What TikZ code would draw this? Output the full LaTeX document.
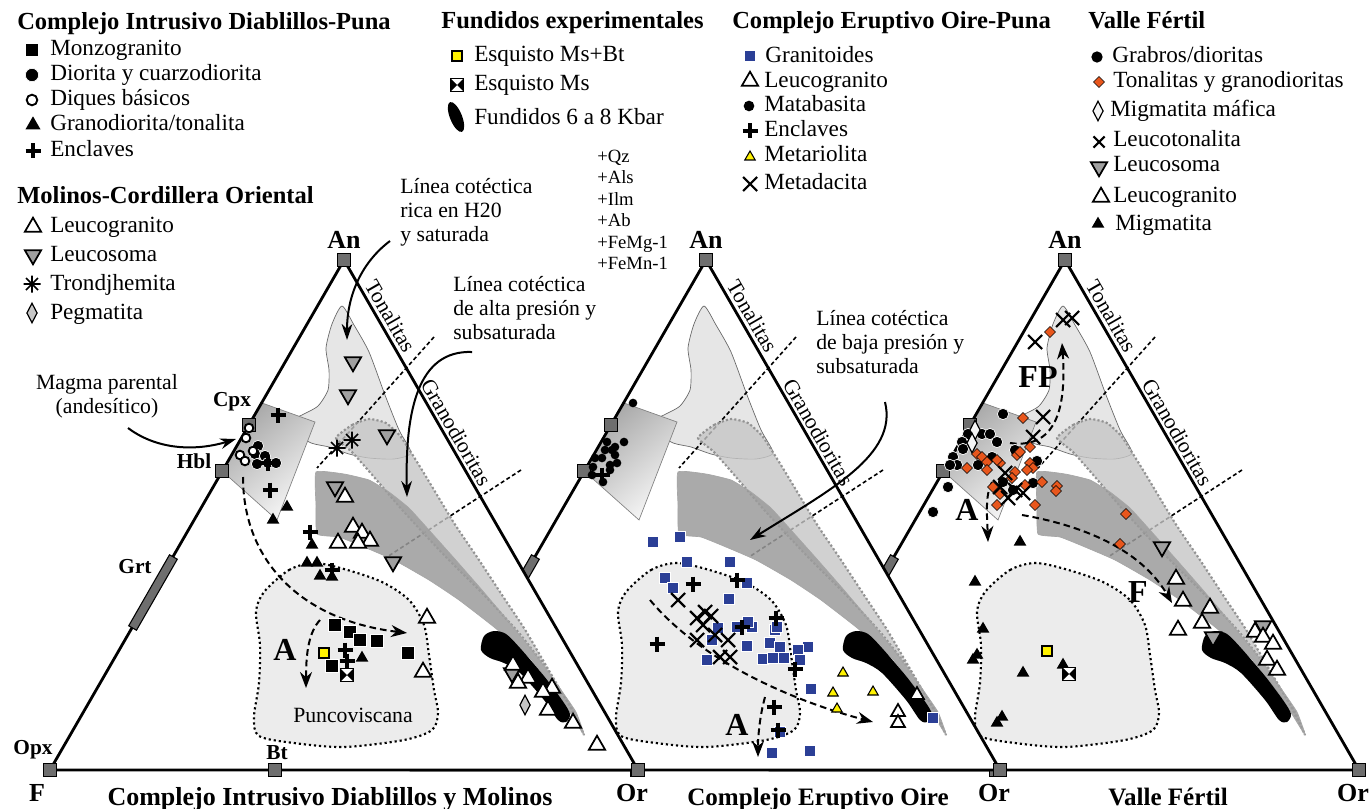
\documentclass[tikz,border=0pt]{standalone}
\usepackage{fontspec}
\setmainfont{Liberation Serif}
\usetikzlibrary{positioning,shapes.geometric,arrows.meta}

\definecolor{vertgray}{HTML}{6E6E6E}
\definecolor{oireblue}{HTML}{2B3F96}
\definecolor{vforange}{HTML}{E8561C}
\definecolor{tonefill}{HTML}{E6E6E6}
\definecolor{bandmid}{HTML}{C6C6C6}
\definecolor{banddark}{HTML}{9C9C9C}
\definecolor{puncofill}{HTML}{ECECEC}
\definecolor{leucogray}{HTML}{A0A0A0}
\definecolor{ylw}{HTML}{FFF200}

\newcommand{\legfont}{\fontsize{17.4}{20}\selectfont}
\newcommand{\headfont}{\fontsize{18.4}{22}\selectfont\bfseries}
\newcommand{\notefont}{\fontsize{16.3}{18}\selectfont}
\newcommand{\assayfont}{\fontsize{14}{16}\selectfont}
\newcommand{\vertfont}{\fontsize{16}{18}\selectfont\bfseries}
\newcommand{\apexfont}{\fontsize{19.5}{22}\selectfont\bfseries}
\newcommand{\titfont}{\fontsize{18.8}{22}\selectfont\bfseries}
\newcommand{\pathfont}{\fontsize{24}{26}\selectfont\bfseries}

\tikzset{
  plusmk/.pic={\draw[line width=2.5pt] (-7.5,0) -- (7.5,0) (0,-7.5) -- (0,7.5);},
  crossmk/.pic={\draw[line width=1.6pt] (-7,-7) -- (7,7) (-7,7) -- (7,-7);},
  astmk/.pic={\draw[line width=1.2pt] (-8.5,0) -- (8.5,0) (0,-8.5) -- (0,8.5) (-6,-6) -- (6,6) (-6,6) -- (6,-6);},
  msmk/.pic={\filldraw[line width=1.2pt,fill=white] (-6.5,-6.5) rectangle (6.5,6.5);
    \fill (-6.5,-6.5) -- (-6.5,6.5) -- (0,0) -- cycle (6.5,-6.5) -- (6.5,6.5) -- (0,0) -- cycle;},
}

% one An-Or-F ternary, An at local x=0 (pixels, y down)
\newcommand{\terntemplate}[1]{%
  \fill[white] (0,260) -- (294,770) -- (-294,770) -- cycle;
  % campo de tonalitas
  \filldraw[tonfield] plot[smooth cycle,tension=0.4] coordinates {(-2,306) (10,325) (25,352) (41,395) (55,430) (67,453) (50,459) (25,458) (5,454) (-15,447) (-35,442) (-57,423) (-42,415) (-26,406) (-16,390) (-15,370) (-18,348) (-12,324)};
  % Cpx-Hbl
  \shadedraw[mafbox] (-82,403) -- (-29,422) -- (-67,520) -- (-122,471) -- cycle;
  % divisorias
  \draw[divider] (90,337) -- (-27,468);
  \draw[divider] (177,470) -- (43,557);
  % bandas cotecticas
  \filldraw[midband] plot[smooth cycle,tension=0.3] coordinates {(-8,438) (8,425) (25,419) (42,423) (57,437) (78,470) (110,523) (135,560) (160,598) (180,628) (200,662) (218,693) (230,712) (240,735) (225,705) (205,672) (175,633) (140,595) (100,555) (60,512) (30,477) (8,452)};
  \filldraw[darkband] plot[smooth cycle,tension=0.25] coordinates {(-28,472) (0,474) (25,480) (45,492) (65,508) (85,530) (110,558) (138,590) (165,622) (192,655) (215,687) (232,712) (240,735) (215,695) (185,657) (150,627) (115,600) (85,580) (50,560) (20,547) (-5,537) (-27,534) (-28,505)};
  % Puncoviscana
  \filldraw[puncozone] plot[smooth cycle,tension=0.5] coordinates {(-80,592) (-55,570) (-30,563) (0,569) (38,582) (65,600) (80,625) (85,655) (90,690) (94,713) (88,730) (60,740) (0,747) (-50,743) (-85,736) (-90,717) (-85,683) (-84,645) (-88,612)};
  % fundidos 6-8 kbar
  \fill plot[smooth cycle,tension=0.5] coordinates {(140,636) (150,631) (162,634) (176,648) (200,676) (218,700) (226,714) (222,722) (214,720) (200,700) (176,673) (160,663) (146,658) (137,650)};
  % marco
  \draw[ternframe] (0,260) -- (294,770) -- (-294,770) -- cycle;
  \filldraw[vertbar] (-166.7,559.2) -- (-174.5,554.8) -- (-215.3,625.8) -- (-207.5,630.2) -- cycle;
  \node[vertsq] (#1An) at (0,260) {};
  \node[vertsq] (#1Or) at (294,770) {};
  \node[vertsq] (#1Bt) at (-69,770) {};
  \node[vertsq] (#1Cpx) at (-95,425) {};
  \node[vertsq] (#1Hbl) at (-122,471) {};
  \node[apex,above=2pt of #1An] (#1AnLab) {An};
  \node[apex] (#1OrLab) at (288,793) {Or};
  \node[fieldlab,rotate=-60] (#1Ton) at (36,322) {Tonalitas};
  \node[fieldlab,rotate=-60] (#1Gran) at (102,438) {Granodioritas};
}

\begin{document}
\begin{tikzpicture}[x=0.75pt,y=-0.75pt]
  \tikzstyle{ternframe}=[line width=2.1pt]
  \tikzstyle{vertsq}=[rectangle,draw=black,fill=vertgray,line width=0.8pt,minimum size=9.5pt,inner sep=0pt]
  \tikzstyle{vertbar}=[draw=black,fill=vertgray,line width=0.8pt]
  \tikzstyle{tonfield}=[fill=tonefill,draw=gray!80!black,line width=0.5pt]
  \tikzstyle{mafbox}=[top color=gray!70,middle color=gray!35,bottom color=gray!6,shading angle=40,draw=gray,line width=0.5pt]
  \tikzstyle{divider}=[line width=1.2pt,dash pattern=on 3pt off 2pt]
  \tikzstyle{midband}=[fill=bandmid,fill opacity=0.8,draw=gray!85,line width=1.6pt,dash pattern=on 1.6pt off 1.6pt]
  \tikzstyle{darkband}=[fill=banddark,fill opacity=0.85,draw=gray!70,line width=0.5pt]
  \tikzstyle{puncozone}=[fill=puncofill,draw=black,line width=1.6pt,dash pattern=on 1.6pt off 2.2pt]
  \tikzstyle{apex}=[font=\apexfont,inner sep=1pt]
  \tikzstyle{fieldlab}=[font=\notefont,anchor=south,inner sep=3pt]
  \tikzstyle{vlab}=[font=\vertfont,inner sep=0pt]
  \tikzstyle{cotnote}=[font=\notefont,align=left,inner sep=0pt,anchor=north west]
  \tikzstyle{notearrow}=[line width=1.5pt,-{Stealth[length=12pt,width=8pt]}]
  \tikzstyle{trend}=[line width=1.5pt,dash pattern=on 5pt off 3pt,-{Stealth[length=12pt,width=9pt]}]
  \tikzstyle{trendlab}=[font=\pathfont,inner sep=0pt]
  \tikzstyle{legtext}=[font=\legfont,anchor=base west,inner sep=0pt]
  \tikzstyle{leghead}=[font=\headfont,anchor=base west,inner sep=0pt]
  \tikzstyle{assay}=[font=\assayfont,anchor=base west,inner sep=0pt]
  \tikzstyle{titlelab}=[font=\titfont,anchor=base,inner sep=0pt]
  \tikzstyle{msq}=[rectangle,fill=black,draw=white,line width=0.9pt,minimum size=9.5pt,inner sep=0pt]
  \tikzstyle{bsq}=[rectangle,fill=oireblue,draw=white,line width=0.6pt,minimum size=8.5pt,inner sep=0pt]
  \tikzstyle{ysq}=[rectangle,fill=ylw,draw=black,line width=1.5pt,minimum size=8pt,inner sep=0pt]
  \tikzstyle{bdot}=[circle,fill=black,draw=white,line width=0.5pt,minimum size=8.5pt,inner sep=0pt]
  \tikzstyle{sdot}=[circle,fill=black,minimum size=6.5pt,inner sep=0pt]
  \tikzstyle{odot}=[circle,draw=black,fill=white,line width=1.4pt,minimum size=6.5pt,inner sep=0pt]
  \tikzstyle{btri}=[regular polygon,regular polygon sides=3,fill=black,minimum size=11pt,inner sep=0pt]
  \tikzstyle{wtri}=[regular polygon,regular polygon sides=3,fill=white,draw=black,line width=1.3pt,minimum size=14pt,inner sep=0pt]
  \tikzstyle{gtri}=[wtri,fill=leucogray,shape border rotate=180]
  \tikzstyle{ytri}=[regular polygon,regular polygon sides=3,fill=ylw,draw=black,line width=0.8pt,minimum size=9pt,inner sep=0pt]
  \tikzstyle{odia}=[diamond,fill=vforange,draw=black,line width=0.4pt,minimum size=8.3pt,inner sep=0pt]
  \tikzstyle{gdia}=[diamond,fill=gray!45,draw=black,line width=0.9pt,minimum width=8pt,minimum height=15pt,inner sep=0pt]
  \tikzstyle{wdia}=[gdia,fill=gray!8]

  \useasboundingbox (0,0) rectangle (1369,809);

  % ternarios, de derecha a izquierda
  \foreach \ax/\tn in {1065/c,706/b,344/a}{
    \begin{scope}[shift={(\ax,0)}]
      \terntemplate{\tn}
    \end{scope}
  }
  \node[vertsq] (aF) at (50,770) {};
  \node[vlab] (aCpxLab) at (232,402) {Cpx};
  \node[vlab] (aHblLab) at (194,461) {Hbl};
  \node[vlab] (aGrtLab) at (135,567) {Grt};
  \node[vlab] (aOpxLab) at (33,750) {Opx};
  \node[vlab] (aBtLab) at (277,753) {Bt};
  \node[apex] (aFLab) at (37,793) {F};

  % titulos inferiores
  \node[titlelab,font=\apexfont] (titA) at (330,805) {Complejo Intrusivo Diablillos y Molinos};
  \node[titlelab] (titB) at (818,805) {Complejo Eruptivo Oire};
  \node[titlelab] (titC) at (1168,805) {Valle Fértil};

  % ---------- Diablillos y Molinos
  \coordinate (aA1s) at (243,477); \coordinate (aA1e) at (407,633);
  \draw[trend] (aA1s) .. controls (243,560) and (300,620) .. (aA1e);
  \coordinate (aA2s) at (320,620); \coordinate (aA2e) at (306,688);
  \draw[trend] (aA2s) .. controls (309,632) and (306,652) .. (aA2e);
  \node[trendlab] (aALab) at (285,650) {A};
  \node[font=\notefont] (aPunco) at (353,715) {Puncoviscana};
  \foreach \p [count=\k] in {(258,446),(255,454),(265,456),(257,464),(268,463),(276,463)}
    \node[bdot] (aD\k) at \p {};
  \foreach \p [count=\k] in {(249,428),(246,438),(240,455),(245,461),(253,451)}
    \node[odot] (aQ\k) at \p {};
  \foreach \p [count=\k] in {(287,507),(273,520),(312,545),(307,563),(317,563),(320,576),(332,577),(362,658)}
    \node[btri] (aG\k) at \p {};
  \foreach \p [count=\k] in {(353,362),(348,395),(387,435),(335,487),(393,562),(512,673)}
    \node[gtri] (aL\k) at \p {};
  \foreach \p [count=\k] in {(345,497),(353,527),(362,533),(370,541),(338,543),(358,543),(427,618),(423,672),(513,665),(528,678),(518,683),(552,688),(543,692),(548,710),(573,723),(597,745)}
    \node[wtri] (aW\k) at \p {};
  \node[gdia] (aP1) at (525,705) {};
  \foreach \p in {(352,440),(337,448)} \pic at \p {astmk};
  \foreach \p in {(278,415),(270,490),(310,532),(332,570),(345,650),(347,661),(268,463)} \pic at \p {plusmk};
  \foreach \p [count=\k] in {(335,625),(350,632),(360,640),(377,641),(408,653),(332,666)}
    \node[msq] (aM\k) at \p {};
  \node[ysq] (aY1) at (324,653) {};
  \pic at (347,675) {msmk};

  % ---------- Oire
  \coordinate (bA1s) at (650,600); \coordinate (bA1e) at (873,722);
  \draw[trend] (bA1s) .. controls (700,660) and (790,700) .. (bA1e);
  \coordinate (bA2s) at (765,697); \coordinate (bA2e) at (758,757);
  \draw[trend] (bA2s) .. controls (760,715) and (758,735) .. (bA2e);
  \node[trendlab] (bALab) at (737,725) {A};
  \foreach \p [count=\k] in {(633,403),(607,442),(624,442),(595,458),(602,458),(615,455),(593,467),(610,465),(617,463),(612,450),(605,450),(603,482),(592,475),(610,470),(615,447)}
    \node[sdot] (bD\k) at \p {};
  \pic at (602,475) {plusmk};
  \foreach \p [count=\k] in {(653,542),(680,537),(687,562),(730,562),(665,578),(673,588),(747,583),(729,599),(718,628),(737,627),(752,627),(748,622),(775,630),(777,627),(712,640),(747,646),(770,643),(780,647),(808,647),(763,659),(773,658),(784,658),(798,650),(800,660),(707,660),(811,689),(933,718),(772,753),(810,751),(780,732)}
    \node[bsq] (bS\k) at \p {};
  \foreach \p in {(693,584),(737,580),(776,618),(742,627),(657,644),(795,669),(774,707),(778,730)} \pic at \p {plusmk};
  \foreach \p in {(678,600),(697,618),(705,612),(711,616),(703,625),(697,640),(715,635),(728,640),(720,657),(730,657)} \pic at \p {crossmk};
  \foreach \p [count=\k] in {(843,673),(833,693),(873,692),(837,709)}
    \node[ytri] (bY\k) at \p {};
  \foreach \p [count=\k] in {(917,695),(898,712),(898,723)}
    \node[wtri,minimum size=12pt] (bW\k) at \p {};

  % ---------- Valle Fertil
  \coordinate (cFPs) at (1010,443); \coordinate (cFPe) at (1062,343);
  \draw[trend] (cFPs) .. controls (1060,450) and (1066,400) .. (cFPe);
  \coordinate (cAs) at (992,482); \coordinate (cAe) at (988,542);
  \draw[trend] (cAs) .. controls (985,495) and (987,515) .. (cAe);
  \coordinate (cFs) at (1022,515); \coordinate (cFe) at (1172,603);
  \draw[trend] (cFs) .. controls (1080,525) and (1140,548) .. (cFe);
  \node[trendlab] (cFPLab) at (1038,377) {FP};
  \node[trendlab] (cALab) at (967,510) {A};
  \node[trendlab] (cFLab) at (1138,592) {F};
  \foreach \p [count=\k] in {(1003,414),(968,434),(982,434),(990,434),(997,442),(962,442),(963,449),(953,457),(957,465),(950,465),(978,465),(992,457),(1015,450),(1037,461),(1033,483),(1013,490),(1003,482),(948,487),(933,512)}
    \node[bdot] (cD\k) at \p {};
  \node[wdia] (cM1) at (975,430) {};
  \node[wdia] (cM2) at (972,443) {};
  \foreach \p [count=\k] in {(1050,332),(1023,418),(1030,447),(977,454),(982,457),(987,462),(1000,463),(997,460),(967,468),(987,470),(1017,455),(1020,452),(1030,463),(1033,468),(1027,470),(1015,472),(1012,478),(1025,485),(1042,482),(993,487),(1000,494),(997,505),(1035,505),(1057,486),(1056,491),(1126,514),(1120,544)}
    \node[odia] (cT\k) at \p {};
  \foreach \p in {(1063,320),(1072,318),(1035,342),(1043,417),(1033,437),(1005,473),(1015,490),(1008,498),(1023,493),(1000,487)} \pic at \p {crossmk};
  \foreach \p [count=\k] in {(1020,542),(975,582),(983,629),(977,655),(973,660),(1023,673),(1063,665),(1002,717),(997,723)}
    \node[btri] (cG\k) at \p {};
  \foreach \p [count=\k] in {(1162,547),(1213,637),(1263,626)}
    \node[gtri] (cL\k) at \p {};
  \foreach \p [count=\k] in {(1176,579),(1183,601),(1210,608),(1202,623),(1178,630),(1255,632),(1263,637),(1273,644),(1267,660),(1277,670)}
    \node[wtri] (cW\k) at \p {};
  \node[ysq] (cY1) at (1047,651) {};
  \pic at (1069,674) {msmk};

  % ---------- notas con flecha
  \node[cotnote] (h2oNote) at (400,178) {Línea cotéctica\\rica en H20\\y saturada};
  \coordinate (h2oS) at (390,241); \coordinate (h2oE) at (347,340);
  \draw[notearrow] (h2oS) .. controls (362,262) and (347,295) .. (h2oE);
  \node[cotnote] (altaNote) at (453,276) {Línea cotéctica\\de alta presión y\\subsaturada};
  \coordinate (altaS) at (472,352); \coordinate (altaE) at (407,497);
  \draw[notearrow] (altaS) .. controls (418,350) and (405,410) .. (altaE);
  \node[cotnote] (bajaNote) at (816,310) {Línea cotéctica\\de baja presión y\\subsaturada};
  \coordinate (bajaS) at (885,402); \coordinate (bajaE) at (750,540);
  \draw[notearrow] (bajaS) .. controls (898,455) and (830,490) .. (bajaE);
  \node[font=\notefont,align=center] (magNote) at (107,396) {Magma parental\\(andesítico)};
  \coordinate (magS) at (128,428); \coordinate (magE) at (236,439);
  \draw[notearrow] (magS) .. controls (160,452) and (200,450) .. (magE);

  % ---------- leyenda
  \node[leghead] (hDiab) at (17,29.5) {Complejo Intrusivo Diablillos-Puna};
  \node[msq] (kMonzo) at (32,50) {};
  \node[legtext] (tMonzo) at (50,56) {Monzogranito};
  \node[bdot,minimum size=10pt] (kDior) at (32,75) {};
  \node[legtext] (tDior) at (50,80.5) {Diorita y cuarzodiorita};
  \node[odot,minimum size=8pt] (kDiq) at (32,100) {};
  \node[legtext] (tDiq) at (50,106) {Diques básicos};
  \node[btri,minimum size=13pt] (kGran) at (33,125) {};
  \node[legtext] (tGran) at (50,131) {Granodiorita/tonalita};
  \pic at (33,151) {plusmk};
  \node[legtext] (tEncA) at (50,157) {Enclaves};
  \node[leghead] (hMol) at (17,204) {Molinos-Cordillera Oriental};
  \node[wtri] (kLgA) at (33,227) {};
  \node[legtext] (tLgA) at (50,232.5) {Leucogranito};
  \node[gtri] (kLsA) at (33,255) {};
  \node[legtext] (tLsA) at (50,261.5) {Leucosoma};
  \pic at (32,284) {astmk};
  \node[legtext] (tTro) at (50,290.5) {Trondjhemita};
  \node[gdia] (kPeg) at (32,313) {};
  \node[legtext] (tPeg) at (50,319) {Pegmatita};

  \node[leghead] (hFund) at (441,28.5) {Fundidos experimentales};
  \node[ysq] (kMsBt) at (457,56) {};
  \node[legtext] (tMsBt) at (474,61.5) {Esquisto Ms+Bt};
  \pic at (457,85) {msmk};
  \node[legtext] (tMs) at (474,90.5) {Esquisto Ms};
  \node[ellipse,fill=black,minimum width=9pt,minimum height=24pt,inner sep=0pt,rotate=22] (kFund) at (456,117) {};
  \node[legtext] (tFund) at (474,125) {Fundidos 6 a 8 Kbar};
  \foreach \t/\y [count=\k] in {+Qz/163,+Als/184,+Ilm/205.5,+Ab/227,+FeMg-1/248,+FeMn-1/269.5}
    \node[assay] (as\k) at (597,\y) {\t};

  \node[leghead] (hOire) at (732,28.5) {Complejo Eruptivo Oire-Puna};
  \node[bsq] (kGrt) at (750,56) {};
  \node[legtext] (tGrt) at (765,63) {Granitoides};
  \node[wtri] (kLgB) at (750,81) {};
  \node[legtext] (tLgB) at (764,87.5) {Leucogranito};
  \node[sdot,minimum size=8pt] (kMet) at (749,106) {};
  \node[legtext] (tMet) at (764,112) {Matabasita};
  \pic at (750,131) {plusmk};
  \node[legtext] (tEncB) at (764,137) {Enclaves};
  \node[ytri] (kMr) at (750,157) {};
  \node[legtext] (tMr) at (764,162) {Metariolita};
  \pic at (750,184) {crossmk};
  \node[legtext] (tMd) at (764,190) {Metadacita};

  \node[leghead] (hValle) at (1088,28.5) {Valle Fértil};
  \node[sdot,minimum size=8.5pt] (kGab) at (1097,57) {};
  \node[legtext] (tGab) at (1112,63) {Grabros/dioritas};
  \node[odia] (kTon) at (1099,82) {};
  \node[legtext] (tTon) at (1113,88) {Tonalitas y granodioritas};
  \node[wdia] (kMm) at (1098,111) {};
  \node[legtext] (tMm) at (1110,117) {Migmatita máfica};
  \pic[scale=0.8] at (1099,142) {crossmk};
  \node[legtext] (tLt) at (1113,147) {Leucotonalita};
  \node[gtri] (kLsC) at (1099,167) {};
  \node[legtext] (tLsC) at (1113,172) {Leucosoma};
  \node[wtri] (kLgC) at (1101,197) {};
  \node[legtext] (tLgC) at (1113,203) {Leucogranito};
  \node[btri] (kMg) at (1098,224) {};
  \node[legtext] (tMg) at (1115,230) {Migmatita};
\end{tikzpicture}
\end{document}
